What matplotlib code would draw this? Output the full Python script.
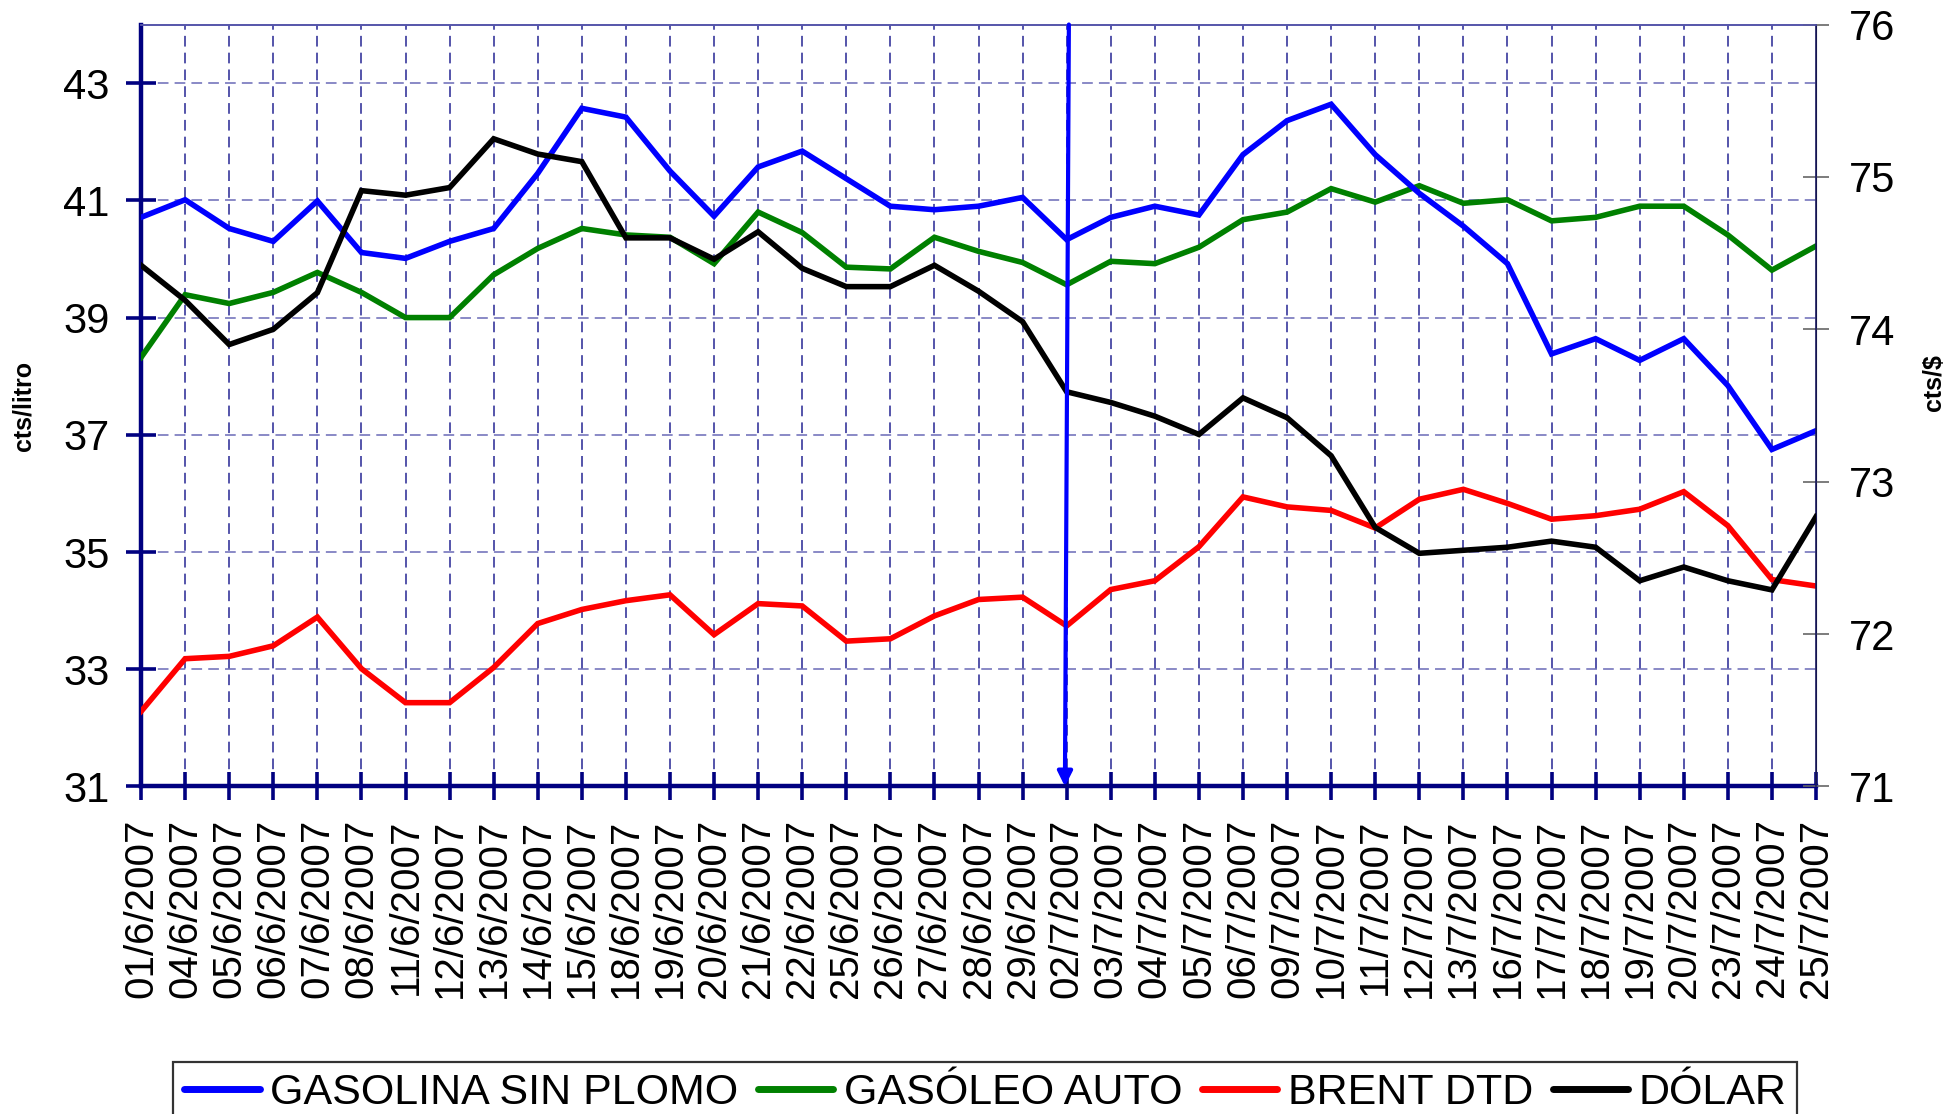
import numpy as np
import matplotlib
matplotlib.use("Agg")
import matplotlib.pyplot as plt

plt.rcParams["font.family"] = ["Liberation Sans", "DejaVu Sans"]

dates = ["01/6/2007", "04/6/2007", "05/6/2007", "06/6/2007", "07/6/2007", "08/6/2007",
         "11/6/2007", "12/6/2007", "13/6/2007", "14/6/2007", "15/6/2007", "18/6/2007",
         "19/6/2007", "20/6/2007", "21/6/2007", "22/6/2007", "25/6/2007", "26/6/2007",
         "27/6/2007", "28/6/2007", "29/6/2007", "02/7/2007", "03/7/2007", "04/7/2007",
         "05/7/2007", "06/7/2007", "09/7/2007", "10/7/2007", "11/7/2007", "12/7/2007",
         "13/7/2007", "16/7/2007", "17/7/2007", "18/7/2007", "19/7/2007", "20/7/2007",
         "23/7/2007", "24/7/2007", "25/7/2007"]

gasolina = [40.71, 41.01, 40.52, 40.30, 40.99, 40.11, 40.01, 40.30, 40.52, 41.46,
            42.57, 42.42, 41.50, 40.73, 41.57, 41.84, 41.37, 40.90, 40.84, 40.90,
            41.05, 40.33, 40.71, 40.90, 40.75, 41.78, 42.36, 42.64, 41.78, 41.12,
            40.56, 39.92, 38.38, 38.64, 38.27, 38.64, 37.84, 36.75, 37.07]

gasoleo = [38.32, 39.39, 39.24, 39.43, 39.77, 39.43, 39.00, 39.00, 39.73, 40.18,
           40.52, 40.41, 40.37, 39.92, 40.80, 40.45, 39.86, 39.83, 40.37, 40.13,
           39.94, 39.56, 39.96, 39.92, 40.20, 40.67, 40.80, 41.20, 40.97, 41.25,
           40.95, 41.01, 40.65, 40.71, 40.90, 40.90, 40.41, 39.81, 40.22]

brent = [32.28, 33.18, 33.22, 33.40, 33.89, 33.01, 32.43, 32.43, 33.03, 33.78,
         34.02, 34.17, 34.27, 33.59, 34.12, 34.08, 33.48, 33.52, 33.91, 34.19,
         34.23, 33.74, 34.36, 34.51, 35.09, 35.94, 35.77, 35.71, 35.41, 35.90,
         36.07, 35.83, 35.56, 35.62, 35.73, 36.03, 35.45, 34.53, 34.42]

dolar = [74.42, 74.19, 73.90, 74.00, 74.24, 74.91, 74.88, 74.93, 75.25, 75.15,
         75.10, 74.60, 74.60, 74.46, 74.64, 74.40, 74.28, 74.28, 74.42, 74.25,
         74.05, 73.59, 73.52, 73.43, 73.31, 73.55, 73.42, 73.17, 72.70, 72.53,
         72.55, 72.57, 72.61, 72.57, 72.35, 72.44, 72.35, 72.29, 72.77]

left_ticks = [31, 33, 35, 37, 39, 41, 43]
right_ticks = [71, 72, 73, 74, 75, 76]
marker_date = "02/7/2007"

NAVY = "#000080"
GRID = "#2b2b99"


def main():
    x = np.arange(len(dates))
    fig = plt.figure(figsize=(19.59, 11.14), dpi=100)
    ax = fig.add_axes([0.072, 0.294, 0.855, 0.684])
    ax2 = ax.twinx()

    lw = 4.0
    l1, = ax.plot(x, gasolina, color="#0000ff", lw=lw, label="GASOLINA SIN PLOMO",
                  solid_joinstyle="miter", zorder=4)
    l2, = ax.plot(x, gasoleo, color="#008000", lw=lw, label="GASÓLEO AUTO",
                  solid_joinstyle="miter", zorder=3)
    l3, = ax.plot(x, brent, color="#ff0000", lw=lw, label="BRENT DTD",
                  solid_joinstyle="miter", zorder=3)
    l4, = ax2.plot(x, dolar, color="black", lw=lw, label="DÓLAR",
                   solid_joinstyle="miter", zorder=3)

    ax.set_xlim(x[0], x[-1])
    ax.set_ylim(31, 44)
    ax2.set_ylim(71, 76)
    ax.set_yticks(left_ticks)
    ax2.set_yticks(right_ticks)
    ax.set_xticks(x)
    ax.set_xticklabels(dates, rotation=90, fontsize=29)

    # grid
    for v in left_ticks[1:]:
        ax.axhline(v, color=GRID, lw=1.1, ls=(0, (7, 4)), alpha=0.7, zorder=1)
    for xi in x[1:-1]:
        ax.axvline(xi, color=NAVY, lw=1.1, ls=(0, (7, 4)), alpha=0.85, zorder=1)

    # spines and ticks
    for a in (ax, ax2):
        a.spines["top"].set_color("#5555aa")
        a.spines["top"].set_linewidth(1.2)
    ax.spines["left"].set_color(NAVY)
    ax.spines["left"].set_linewidth(3.2)
    ax.spines["bottom"].set_color(NAVY)
    ax.spines["bottom"].set_linewidth(3.2)
    ax2.spines["right"].set_color("#1a1a60")
    ax2.spines["right"].set_linewidth(1.2)
    ax2.spines["left"].set_visible(False)
    ax2.spines["bottom"].set_visible(False)

    ax.tick_params(axis="y", direction="inout", length=21, width=2.6, color=NAVY,
                   labelsize=30, pad=12)
    ax.tick_params(axis="x", direction="inout", length=20, width=2.6, color=NAVY,
                   pad=13)
    ax2.tick_params(axis="y", direction="inout", length=19, width=1.2, color="#666666",
                    labelsize=30, pad=14)

    ax.set_ylabel("cts/litro", fontsize=18, fontweight="bold")
    ax.yaxis.set_label_coords(-0.063, 0.5)
    ax2.set_ylabel("cts/$", fontsize=18, fontweight="bold")
    ax2.yaxis.set_label_coords(1.063, 0.53)

    # vertical marker arrow
    i = dates.index(marker_date)
    y0, y1 = ax2.get_ylim()
    ax2.annotate("", xy=(i - 0.04, y0), xytext=(i + 0.05, y1),
                 arrowprops=dict(arrowstyle="-|>", color="#0000ff", lw=3,
                                 mutation_scale=22, shrinkA=0, shrinkB=0),
                 annotation_clip=False, zorder=6)

    leg = fig.legend([l1, l2, l3, l4], [l.get_label() for l in (l1, l2, l3, l4)],
                     loc="upper center", bbox_to_anchor=(0.503, 0.0467), ncol=4,
                     fontsize=31, frameon=True, fancybox=False, handlelength=1.75,
                     handletextpad=0.25, columnspacing=0.45, borderpad=0.25,
                     borderaxespad=0)
    leg.get_frame().set_edgecolor("black")
    leg.get_frame().set_linewidth(1.6)
    for h in leg.get_lines():
        h.set_linewidth(5)
        h.set_solid_capstyle("round")

    fig.savefig("out.png", dpi=100)
    plt.close(fig)


if __name__ == "__main__":
    main()
